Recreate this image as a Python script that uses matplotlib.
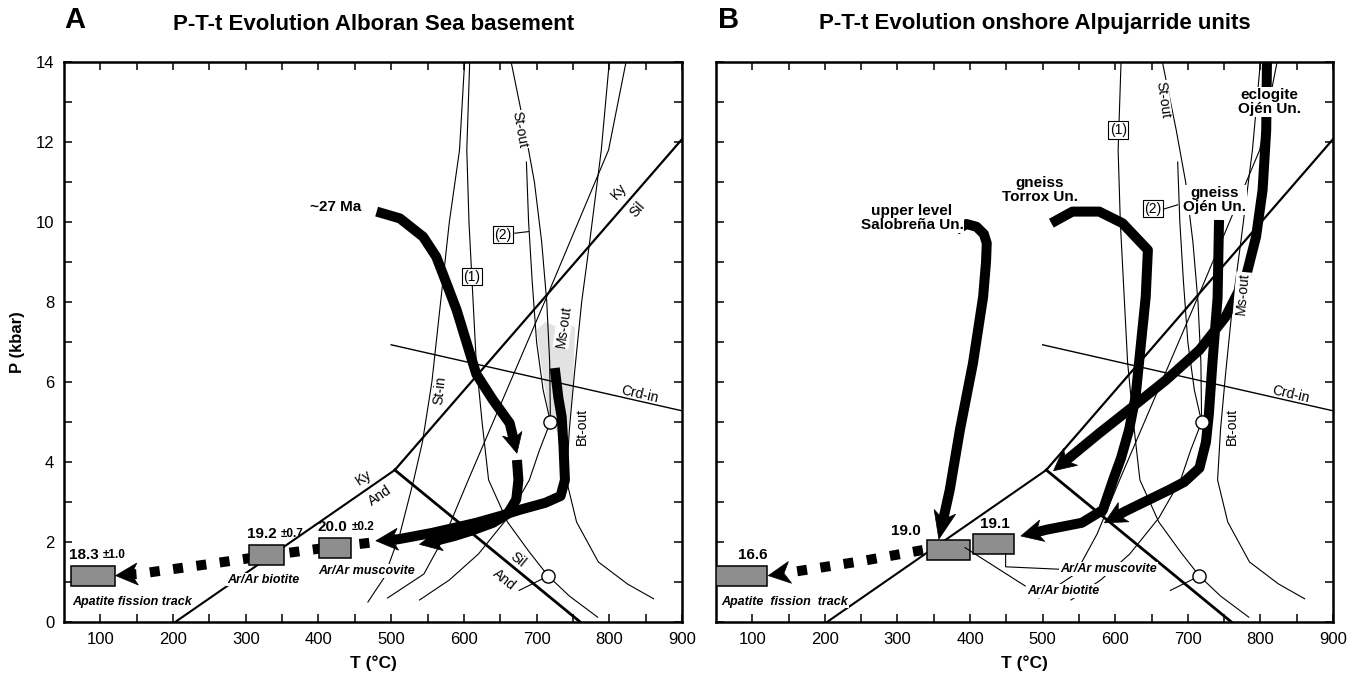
import numpy as np
import matplotlib
matplotlib.use("Agg")
import matplotlib.pyplot as plt
from matplotlib.patches import Polygon, Rectangle

plt.rcParams['font.family'] = ['Liberation Sans', 'DejaVu Sans']

# ---------------- data (T in degC, P in kbar) ----------------
x_major = [100, 200, 300, 400, 500, 600, 700, 800, 900]
x_minor = [150, 250, 350, 450, 550, 650, 750, 850]
y_major = [0, 2, 4, 6, 8, 10, 12, 14]
y_minor = [1, 3, 5, 7, 9, 11, 13]

# aluminosilicate and cordierite lines
kysil_T = [505, 900];  kysil_P = [3.8, 12.07]
andsil_T = [505, 760]; andsil_P = [3.8, 0.0]
kyand_T = [505, 203];  kyand_P = [3.8, 0.0]
crd_T = [500, 900];    crd_P = [6.93, 5.28]

# reaction curves of the petrogenetic grid
stin_T = [601, 594, 580, 568, 556, 543, 531, 512, 490, 468]
stin_P = [14, 11.8, 10, 8, 6, 4.5, 3.55, 2.2, 1.1, 0.5]
r1_T = [608, 604, 607, 611, 617, 625, 634, 660, 690, 716, 745, 784]
r1_P = [14, 11.8, 10, 8.6, 6.5, 5.0, 3.55, 2.5, 1.75, 1.15, 0.65, 0.12]
stout_T = [665, 684, 697, 707, 714, 718, 719]
stout_P = [14, 12.3, 11, 9.5, 8, 6.5, 5.0]
r2_T = [686, 689, 694, 700, 709, 719]
r2_P = [11.5, 10, 8.5, 7, 5.8, 5.0]
circ_T = [719, 704, 690, 660, 620, 580, 539]
circ_P = [5.0, 4.3, 3.55, 2.6, 1.7, 1.05, 0.55]
m1_T = [800, 789, 773, 762, 752, 745, 741, 755, 785, 825, 861]
m1_P = [14, 11.8, 9.5, 8, 6.2, 4.8, 3.55, 2.5, 1.5, 0.95, 0.58]
c_T = [823, 799, 718, 606, 575, 545, 495]
c_P = [14, 11.8, 8.3, 3.55, 2.2, 1.2, 0.6]
tick_T = [716, 676]; tick_P = [1.15, 0.79]
inv_T = [719, 716]; inv_P = [5.0, 1.15]   # invariant points (circles)

shade_T = [700, 712, 725, 740, 753, 750, 745, 740, 730, 719, 710]
shade_P = [7.3, 7.5, 7.4, 7.55, 7.35, 6.0, 5.0, 4.5, 4.7, 5.0, 6.0]

# ---- panel A: Alboran Sea basement paths ----
a1_T = [480, 512, 544, 562, 576, 590, 604, 617, 640, 663, 673]
a1_P = [10.26, 10.09, 9.63, 9.13, 8.47, 7.8, 6.97, 6.2, 5.55, 4.97, 4.22]
a1b_T = [673, 675, 672, 660, 640, 610, 587, 560, 539]
a1b_P = [4.05, 3.55, 3.06, 2.7, 2.48, 2.28, 2.15, 2.02, 1.94]
a2_T = [725, 730, 734.5, 737, 739, 733, 712, 676, 650, 617, 557, 510, 479]
a2_P = [6.35, 5.6, 5.13, 4.4, 3.55, 3.15, 2.98, 2.8, 2.65, 2.48, 2.23, 2.07, 2.03]
acool_T = [470, 400, 330, 250, 152, 121]
acool_P = [1.98, 1.83, 1.66, 1.45, 1.2, 1.16]

a_box_T0 = [59, 304, 401]
a_box_T1 = [120, 353, 445]
a_box_P0 = [0.89, 1.43, 1.6]
a_box_P1 = [1.39, 1.93, 2.1]
a_ages = ["18.3", "19.2", "20.0"]
a_errs = ["\u00b11.0", "\u00b10.7", "\u00b10.2"]

# ---- panel B: onshore Alpujarride paths ----
ecl_T = [810, 809, 808, 803, 794, 780, 752, 716, 670, 624, 578, 515]
ecl_P = [14.5, 14, 12.3, 10.8, 9.63, 8.63, 7.63, 6.8, 6.05, 5.38, 4.72, 3.78]
gojen_T = [743, 741, 734, 729, 725, 716, 695, 674, 640, 614, 585]
gojen_P = [10.05, 8.1, 6.5, 5.2, 4.5, 3.85, 3.5, 3.3, 3.0, 2.77, 2.48]
torrox_T = [512, 541, 578, 610, 645, 642, 635, 628, 619, 608, 597, 583, 554, 506, 470]
torrox_P = [9.97, 10.26, 10.26, 9.97, 9.3, 8.13, 6.88, 5.63, 4.8, 4.1, 3.55, 2.8, 2.48, 2.31, 2.15]
salob_T = [381, 395, 409, 419, 423, 422, 418, 404, 386, 372, 357]
salob_P = [9.8, 9.95, 9.88, 9.7, 9.47, 9.0, 8.13, 6.47, 4.8, 3.3, 2.07]
bcool_T = [335, 250, 152, 122]
bcool_P = [1.8, 1.52, 1.24, 1.16]

b_box_T0 = [50, 340, 404]
b_box_T1 = [120, 400, 460]
b_box_P0 = [0.89, 1.55, 1.71]
b_box_P1 = [1.39, 2.04, 2.21]
b_ages = ["16.6", "19.0", "19.1"]

mus_lead_T = [449, 449, 522]; mus_lead_P = [1.71, 1.38, 1.32]
bio_lead_T = [393, 476];      bio_lead_P = [1.86, 0.9]

# ---------------- figure ----------------
W, H, DPI = 1356, 682, 100
fig = plt.figure(figsize=(W / DPI, H / DPI), dpi=DPI)

def axes_px(x0, x1, ytop, ybot):
    return fig.add_axes([x0 / W, 1 - ybot / H, (x1 - x0) / W, (ybot - ytop) / H])

axA = axes_px(64, 682, 62, 622)
axB = axes_px(716, 1333, 62, 622)

GRAY = '#8e8e8e'
BOLD_SIZE = 11

def setup(ax, ylabels):
    ax.set_xlim(50, 900)
    ax.set_ylim(0, 14)
    ax.set_xticks(x_major)
    ax.set_xticks(x_minor, minor=True)
    ax.set_yticks(y_major)
    ax.set_yticks(y_minor, minor=True)
    ax.tick_params(which='both', direction='in', top=True, right=True,
                   length=6, width=1.1, labelsize=12, pad=7)
    if not ylabels:
        ax.set_yticklabels([])
    for s in ax.spines.values():
        s.set_linewidth(1.8)
    ax.set_xlabel('T (\u00b0C)', fontsize=12.5, fontweight='bold', labelpad=6)

def thin(ax, T, P, lw=0.8, z=2):
    ax.plot(T, P, color='k', lw=lw, zorder=z, solid_joinstyle='round')

def arrow_path(ax, T, P, lw_px=10, head_len=22, head_hw=11, dashed=False, z=5):
    pts = ax.transData.transform(np.column_stack([T, P]))
    tip = pts[-1]
    prev = pts[-2]
    d = tip - prev
    u = d / np.hypot(*d)
    n = np.array([-u[1], u[0]])
    base = tip - u * head_len
    shaft_end = tip - u * head_len * 0.6
    keep = [p for p in pts[:-1] if np.hypot(*(tip - p)) > head_len * 0.9]
    shaft = np.vstack(keep + [shaft_end])
    inv = ax.transData.inverted()
    sd = inv.transform(shaft)
    lw_pt = lw_px * 72.0 / DPI
    if dashed:
        ax.plot(sd[:, 0], sd[:, 1], color='k', lw=lw_pt, zorder=z,
                linestyle=(0, (1.0, 1.35)), dash_capstyle='butt')
    else:
        ax.plot(sd[:, 0], sd[:, 1], color='k', lw=lw_pt, zorder=z,
                solid_capstyle='butt', solid_joinstyle='round')
    head = np.array([tip, base + n * head_hw, tip - u * head_len * 0.72, base - n * head_hw])
    ax.add_patch(Polygon(inv.transform(head), closed=True, fc='k', ec='k', lw=0.5, zorder=z))

def grid(ax, with_stin):
    thin(ax, kysil_T, kysil_P, lw=1.6, z=3)
    thin(ax, andsil_T, andsil_P, lw=2.0, z=3)
    thin(ax, kyand_T, kyand_P, lw=1.5, z=3)
    thin(ax, crd_T, crd_P, lw=1.0)
    if with_stin:
        thin(ax, stin_T, stin_P)
    for T, P in [(r1_T, r1_P), (stout_T, stout_P), (r2_T, r2_P), (circ_T, circ_P),
                 (m1_T, m1_P), (c_T, c_P), (tick_T, tick_P)]:
        thin(ax, T, P)
    ax.plot(inv_T, inv_P, 'o', ms=9.5, mfc='white', mec='k', mew=1.0, zorder=7)

white = dict(facecolor='white', edgecolor='none', pad=0.6)
boxed = dict(boxstyle='square,pad=0.12', facecolor='white', edgecolor='k', lw=0.8)

def lab(ax, s, T, P, rot=0, size=10, bbox=white, **kw):
    ax.text(T, P, s, rotation=rot, rotation_mode='anchor', ha='center', va='center',
            fontsize=size, bbox=bbox, zorder=6, **kw)

# ================= Panel A =================
setup(axA, True)
axA.set_ylabel('P (kbar)', fontsize=12, fontweight='bold', labelpad=8)
axA.add_patch(Polygon(np.column_stack([shade_T, shade_P]), closed=True,
                      fc='#e2e2e2', ec='none', zorder=1))
grid(axA, True)

lab(axA, 'St-out', 676, 12.3, rot=-80)
lab(axA, 'St-in', 567, 5.8, rot=84)
lab(axA, 'Ms-out', 737, 7.4, rot=82)
lab(axA, 'Bt-out', 762, 4.9, rot=90)
lab(axA, 'Crd-in', 842, 5.68, rot=-13, bbox=None)
lab(axA, 'Ky', 813, 10.78, rot=49, bbox=None)
lab(axA, 'Sil', 838, 10.32, rot=49, bbox=None)
lab(axA, 'Ky', 462, 3.62, rot=34, bbox=None)
lab(axA, 'And', 484, 3.15, rot=34, bbox=None)
lab(axA, 'Sil', 674, 1.55, rot=-39, bbox=None)
lab(axA, 'And', 656, 1.05, rot=-39, bbox=None)
lab(axA, '(1)', 611, 8.63, bbox=boxed)
lab(axA, '(2)', 654, 9.68, bbox=boxed)
thin(axA, [670, 689], [9.72, 9.76])

arrow_path(axA, a1_T, a1_P, head_len=20, head_hw=10)
arrow_path(axA, a1b_T, a1b_P)
arrow_path(axA, a2_T, a2_P)
arrow_path(axA, acool_T, acool_P, dashed=True, z=4)

axA.text(459, 10.37, '~27 Ma', ha='right', va='center', fontsize=BOLD_SIZE,
         fontweight='bold', zorder=6)

for t0, t1, p0, p1, age, err in zip(a_box_T0, a_box_T1, a_box_P0, a_box_P1, a_ages, a_errs):
    axA.add_patch(Rectangle((t0, p0), t1 - t0, p1 - p0, fc=GRAY, ec='k', lw=1.1, zorder=6))
    t = axA.text(t0 - 2, p1 + 0.28, age, ha='left', va='center', fontsize=BOLD_SIZE,
                 fontweight='bold', zorder=6)
    axA.annotate(err, xy=(1, 0.5), xycoords=t, xytext=(3, 0), textcoords='offset points',
                 ha='left', va='center', fontsize=8.5, fontweight='bold', zorder=6)

axA.text(62, 0.51, 'Apatite fission track', ha='left', va='center', fontsize=9,
         fontweight='bold', style='italic', bbox=white, zorder=6)
axA.text(274, 1.06, 'Ar/Ar biotite', ha='left', va='center', fontsize=9,
         fontweight='bold', style='italic', bbox=white, zorder=6)
axA.text(400, 1.27, 'Ar/Ar muscovite', ha='left', va='center', fontsize=9,
         fontweight='bold', style='italic', bbox=white, zorder=6)

# ================= Panel B =================
setup(axB, False)
grid(axB, False)

lab(axB, 'St-out', 665, 13.05, rot=-82)
lab(axB, 'Ms-out', 775, 8.2, rot=85)
lab(axB, 'Bt-out', 760, 4.9, rot=90)
lab(axB, 'Crd-in', 842, 5.68, rot=-13, bbox=None)
lab(axB, '(1)', 604, 12.3, bbox=boxed)
lab(axB, '(2)', 652, 10.33, bbox=boxed)
thin(axB, [668, 686], [10.33, 10.43])

arrow_path(axB, ecl_T, ecl_P)
arrow_path(axB, gojen_T, gojen_P)
arrow_path(axB, torrox_T, torrox_P)
arrow_path(axB, salob_T, salob_P, head_len=28, head_hw=11)
arrow_path(axB, bcool_T, bcool_P, dashed=True, z=4)

for s, T, P in [('upper level\nSalobre\u00f1a Un.', 320, 10.1),
                ('gneiss\nTorrox Un.', 496, 10.8),
                ('gneiss\nOj\u00e9n Un.', 737, 10.55),
                ('eclogite\nOj\u00e9n Un.', 812, 13.0)]:
    axB.text(T, P, s, ha='center', va='center', fontsize=BOLD_SIZE, fontweight='bold',
             linespacing=1.0, bbox=dict(facecolor='white', edgecolor='none', pad=0.5), zorder=6)

for t0, t1, p0, p1, age in zip(b_box_T0, b_box_T1, b_box_P0, b_box_P1, b_ages):
    axB.add_patch(Rectangle((t0, p0), t1 - t0, p1 - p0, fc=GRAY, ec='k', lw=1.1, zorder=6))
axB.text(100, 1.67, b_ages[0], ha='center', va='center', fontsize=BOLD_SIZE, fontweight='bold', zorder=6)
axB.text(312, 2.27, b_ages[1], ha='center', va='center', fontsize=BOLD_SIZE, fontweight='bold', zorder=6)
axB.text(434, 2.44, b_ages[2], ha='center', va='center', fontsize=BOLD_SIZE, fontweight='bold', zorder=6)

thin(axB, mus_lead_T, mus_lead_P, lw=0.8, z=6)
thin(axB, bio_lead_T, bio_lead_P, lw=0.8, z=6)
axB.text(57, 0.51, 'Apatite  fission  track', ha='left', va='center', fontsize=9,
         fontweight='bold', style='italic', bbox=white, zorder=6)
axB.text(479, 0.77, 'Ar/Ar biotite', ha='left', va='center', fontsize=9,
         fontweight='bold', style='italic', bbox=white, zorder=6)
axB.text(524, 1.32, 'Ar/Ar muscovite', ha='left', va='center', fontsize=9,
         fontweight='bold', style='italic', bbox=white, zorder=6)

# ---------------- titles ----------------
fig.text(64 / W, 1 - 20 / H, 'A', fontsize=21, fontweight='bold', ha='left', va='center')
fig.text(374 / W, 1 - 24 / H, 'P-T-t Evolution Alboran Sea basement', fontsize=16,
         fontweight='bold', ha='center', va='center')
fig.text(718 / W, 1 - 20 / H, 'B', fontsize=21, fontweight='bold', ha='left', va='center')
fig.text(1035 / W, 1 - 24 / H, 'P-T-t Evolution onshore Alpujarride units', fontsize=16,
         fontweight='bold', ha='center', va='center')

fig.savefig('out.png', dpi=DPI)
